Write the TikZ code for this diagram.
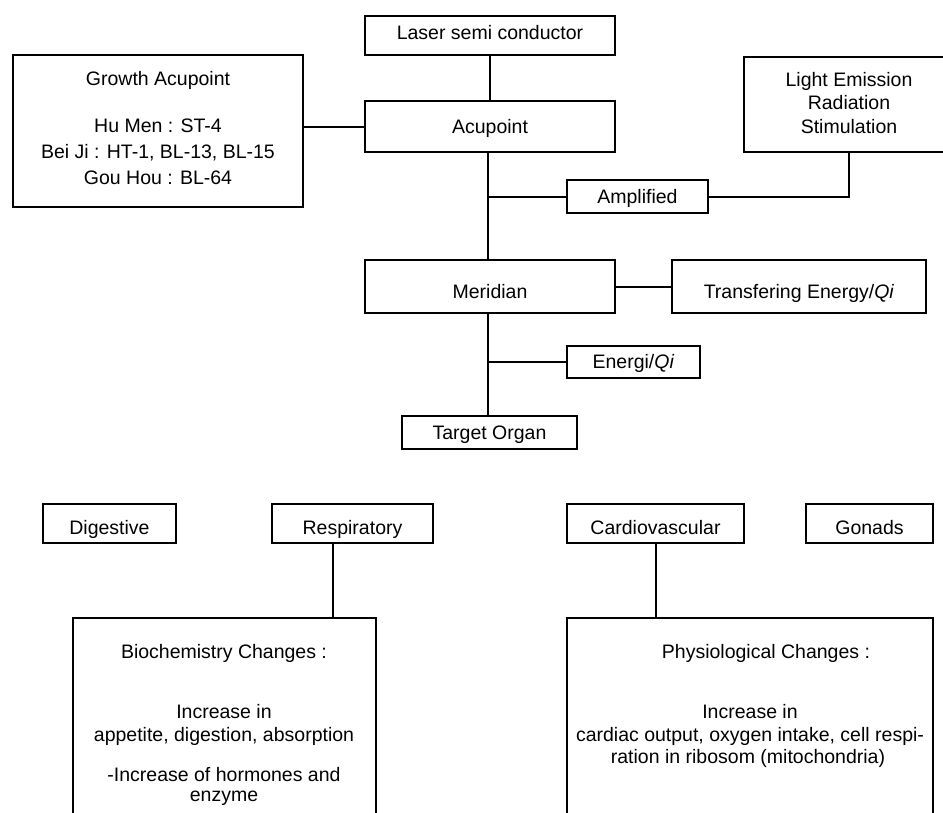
\documentclass[tikz,border=0pt]{standalone}
\usepackage{fontspec}
\setmainfont{Liberation Sans}
\begin{document}
\begin{tikzpicture}[x=1pt,y=-1pt,
  box/.style={draw, line width=1.8pt, inner sep=0pt},
  txt/.style={anchor=base, inner sep=0pt, font=\fontsize{19.5}{23}\selectfont},
  link/.style={line width=2pt}]
\useasboundingbox (0,0) rectangle (943,812);
\clip (0,0) rectangle (943,812);
% boxes
\node[box, minimum width=250pt, minimum height=39pt] (laser) at (490,35.5) {};
\node[box, minimum width=250pt, minimum height=51pt] (acu) at (490,126.5) {};
\node[box, minimum width=290pt, minimum height=152pt] (growth) at (158,131) {};
\node[box, minimum width=210pt, minimum height=95pt] (light) at (849,104.5) {};
\node[box, minimum width=141pt, minimum height=33pt] (amp) at (637.5,196.5) {};
\node[box, minimum width=250pt, minimum height=53pt] (mer) at (490,286.5) {};
\node[box, minimum width=254pt, minimum height=53pt] (trans) at (799,286.5) {};
\node[box, minimum width=133pt, minimum height=32pt] (energi) at (633.5,362) {};
\node[box, minimum width=175pt, minimum height=33pt] (target) at (489.5,432.5) {};
\node[box, minimum width=133pt, minimum height=39pt] (dig) at (109.5,523.5) {};
\node[box, minimum width=161pt, minimum height=39pt] (resp) at (352.5,523.5) {};
\node[box, minimum width=177pt, minimum height=39pt] (cardio) at (655.5,523.5) {};
\node[box, minimum width=127pt, minimum height=39pt] (gonads) at (869.5,523.5) {};
\node[box, minimum width=303pt, minimum height=212pt] (bio) at (224.5,724) {};
\node[box, minimum width=366pt, minimum height=212pt] (phys) at (750,724) {};
% texts
\node[txt] (t-laser) at (490,39) {Laser semi conductor};
\node[txt] (t-acu) at (490,133) {Acupoint};
\node[txt] (t-g1) at (158,85) {Growth Acupoint};
\node[txt] (t-g2) at (158,132) {Hu Men : ST-4};
\node[txt] (t-g3) at (158,158) {Bei Ji : HT-1, BL-13, BL-15};
\node[txt] (t-g4) at (158,184) {Gou Hou : BL-64};
\node[txt] (t-l1) at (849,86) {Light Emission};
\node[txt] (t-l2) at (849,109.5) {Radiation};
\node[txt] (t-l3) at (849,133) {Stimulation};
\node[txt] (t-amp) at (637.5,203) {Amplified};
\node[txt] (t-mer) at (490,298) {Meridian};
\node[txt] (t-trans) at (799,298) {Transfering Energy/\textit{Qi}};
\node[txt] (t-energi) at (633.5,368) {Energi/\textit{Qi}};
\node[txt] (t-target) at (489.5,439) {Target Organ};
\node[txt] (t-dig) at (109.5,534) {Digestive};
\node[txt] (t-resp) at (352.5,534) {Respiratory};
\node[txt] (t-cardio) at (655.5,534) {Cardiovascular};
\node[txt] (t-gonads) at (869.5,534) {Gonads};
\node[txt] (t-b1) at (224,658) {Biochemistry Changes :};
\node[txt] (t-b2) at (224,718) {Increase in};
\node[txt] (t-b3) at (224,741) {appetite, digestion, absorption};
\node[txt] (t-b4) at (224,781) {-Increase of hormones and};
\node[txt] (t-b5) at (224,801) {enzyme};
\node[txt] (t-p1) at (766,658) {Physiological Changes :};
\node[txt] (t-p2) at (750,718) {Increase in};
\node[txt] (t-p3) at (750,741) {cardiac output, oxygen intake, cell respi-};
\node[txt] (t-p4) at (748,763) {ration in ribosom (mitochondria)};
% connectors
\draw[link] (laser.south) -- (acu.north);
\draw[link] (acu.west) -- (acu.west -| growth.east);
\draw[link] ([xshift=-2pt]acu.south) -- ([xshift=-2pt]acu.south |- mer.north);
\coordinate (ampj) at ([xshift=-2pt]acu.south |- amp.west);
\draw[link] (ampj) -- (amp.west);
\draw[link] (amp.east) -| (light.south);
\draw[link] (mer.east) -- (trans.west);
\draw[link] ([xshift=-2pt]mer.south) -- ([xshift=-2pt]mer.south |- target.north);
\coordinate (enj) at ([xshift=-2pt]mer.south |- energi.west);
\draw[link] (enj) -- (energi.west);
\draw[link] ([xshift=-19.5pt]resp.south) -- ([xshift=-19.5pt]resp.south |- bio.north);
\draw[link] (cardio.south) -- (cardio.south |- phys.north);
\end{tikzpicture}
\end{document}
